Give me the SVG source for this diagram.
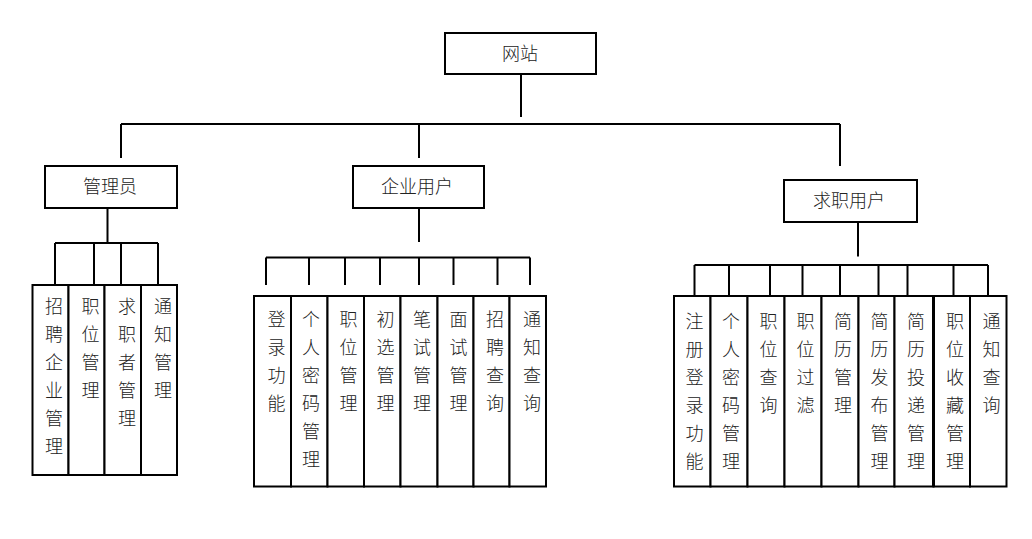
<svg xmlns="http://www.w3.org/2000/svg" width="1032" height="539" viewBox="0 0 1032 539">
<style>
.box{fill:#fff;stroke:#000;stroke-width:2}
.ln{stroke:#000;stroke-width:2;fill:none}
.t{font-family:"Liberation Serif","Noto Sans CJK SC",serif;font-size:18px;font-weight:300;fill:#222;text-anchor:middle}
</style>
<rect x="0" y="0" width="1032" height="539" fill="#fff"/>
<g id="connectors" class="ln">
<path d="M521 74V117"/>
<path d="M121 124H840"/>
<path d="M121 124V158M419 124V158M840 124V166"/>
<path d="M107.5 208V243M55 243H158M55 243V284M94 243V284M121 243V284M158 243V284"/>
<path d="M419 208V242M266 257.5H530M266 257.5V285M309 257.5V285M345 257.5V285M380 257.5V285M419 257.5V285M453.5 257.5V285M497.5 257.5V285M530 257.5V285"/>
<path d="M858 222V256.5M694.5 265H988M694.5 265V296M729 265V296M770 265V296M802.5 265V296M840 265V296M878.5 265V296M907.5 265V296M953.5 265V296M988 265V296"/>
</g>
<g id="n-root"><rect class="box" x="445" y="33" width="151" height="41"/><text class="t" x="520" y="60">网站</text></g>
<g id="n-admin"><rect class="box" x="45" y="166" width="132" height="42"/><text class="t" x="110" y="193">管理员</text></g>
<g id="n-company"><rect class="box" x="353" y="166" width="131" height="42"/><text class="t" x="417" y="193">企业用户</text></g>
<g id="n-seeker"><rect class="box" x="784" y="180" width="133" height="42"/><text class="t" x="849" y="207">求职用户</text></g>

<g id="n-a1"><rect class="box" x="32.5" y="285" width="36" height="190"/><text class="t" y="312.5"><tspan x="54">招</tspan><tspan x="54" dy="28">聘</tspan><tspan x="54" dy="28">企</tspan><tspan x="54" dy="28">业</tspan><tspan x="54" dy="28">管</tspan><tspan x="54" dy="28">理</tspan></text></g>
<g id="n-a2"><rect class="box" x="68.5" y="285" width="36" height="190"/><text class="t" y="312.5"><tspan x="90.5">职</tspan><tspan x="90.5" dy="28">位</tspan><tspan x="90.5" dy="28">管</tspan><tspan x="90.5" dy="28">理</tspan></text></g>
<g id="n-a3"><rect class="box" x="104.5" y="285" width="36.5" height="190"/><text class="t" y="312.5"><tspan x="127">求</tspan><tspan x="127" dy="28">职</tspan><tspan x="127" dy="28">者</tspan><tspan x="127" dy="28">管</tspan><tspan x="127" dy="28">理</tspan></text></g>
<g id="n-a4"><rect class="box" x="141" y="285" width="36" height="190"/><text class="t" y="312.5"><tspan x="163">通</tspan><tspan x="163" dy="28">知</tspan><tspan x="163" dy="28">管</tspan><tspan x="163" dy="28">理</tspan></text></g>

<g id="n-c1"><rect class="box" x="254" y="296" width="37" height="190.5"/><text class="t" y="325.5"><tspan x="276.5">登</tspan><tspan x="276.5" dy="28">录</tspan><tspan x="276.5" dy="28">功</tspan><tspan x="276.5" dy="28">能</tspan></text></g>
<g id="n-c2"><rect class="box" x="291" y="296" width="36.5" height="190.5"/><text class="t" y="325.5"><tspan x="311">个</tspan><tspan x="311" dy="28">人</tspan><tspan x="311" dy="28">密</tspan><tspan x="311" dy="28">码</tspan><tspan x="311" dy="28">管</tspan><tspan x="311" dy="28">理</tspan></text></g>
<g id="n-c3"><rect class="box" x="327.5" y="296" width="36.5" height="190.5"/><text class="t" y="325.5"><tspan x="348.5">职</tspan><tspan x="348.5" dy="28">位</tspan><tspan x="348.5" dy="28">管</tspan><tspan x="348.5" dy="28">理</tspan></text></g>
<g id="n-c4"><rect class="box" x="364" y="296" width="36.5" height="190.5"/><text class="t" y="325.5"><tspan x="385.5">初</tspan><tspan x="385.5" dy="28">选</tspan><tspan x="385.5" dy="28">管</tspan><tspan x="385.5" dy="28">理</tspan></text></g>
<g id="n-c5"><rect class="box" x="400.5" y="296" width="37" height="190.5"/><text class="t" y="325.5"><tspan x="422">笔</tspan><tspan x="422" dy="28">试</tspan><tspan x="422" dy="28">管</tspan><tspan x="422" dy="28">理</tspan></text></g>
<g id="n-c6"><rect class="box" x="437.5" y="296" width="36" height="190.5"/><text class="t" y="325.5"><tspan x="458.5">面</tspan><tspan x="458.5" dy="28">试</tspan><tspan x="458.5" dy="28">管</tspan><tspan x="458.5" dy="28">理</tspan></text></g>
<g id="n-c7"><rect class="box" x="473.5" y="296" width="36" height="190.5"/><text class="t" y="325.5"><tspan x="495">招</tspan><tspan x="495" dy="28">聘</tspan><tspan x="495" dy="28">查</tspan><tspan x="495" dy="28">询</tspan></text></g>
<g id="n-c8"><rect class="box" x="509.5" y="296" width="36.5" height="190.5"/><text class="t" y="325.5"><tspan x="532">通</tspan><tspan x="532" dy="28">知</tspan><tspan x="532" dy="28">查</tspan><tspan x="532" dy="28">询</tspan></text></g>

<g id="n-s1"><rect class="box" x="674" y="296" width="36.5" height="190.5"/><text class="t" y="327.5"><tspan x="694.5">注</tspan><tspan x="694.5" dy="28">册</tspan><tspan x="694.5" dy="28">登</tspan><tspan x="694.5" dy="28">录</tspan><tspan x="694.5" dy="28">功</tspan><tspan x="694.5" dy="28">能</tspan></text></g>
<g id="n-s2"><rect class="box" x="710.5" y="296" width="37" height="190.5"/><text class="t" y="327.5"><tspan x="731">个</tspan><tspan x="731" dy="28">人</tspan><tspan x="731" dy="28">密</tspan><tspan x="731" dy="28">码</tspan><tspan x="731" dy="28">管</tspan><tspan x="731" dy="28">理</tspan></text></g>
<g id="n-s3"><rect class="box" x="747.5" y="296" width="37" height="190.5"/><text class="t" y="327.5"><tspan x="768.5">职</tspan><tspan x="768.5" dy="28">位</tspan><tspan x="768.5" dy="28">查</tspan><tspan x="768.5" dy="28">询</tspan></text></g>
<g id="n-s4"><rect class="box" x="784.5" y="296" width="37" height="190.5"/><text class="t" y="327.5"><tspan x="805.5">职</tspan><tspan x="805.5" dy="28">位</tspan><tspan x="805.5" dy="28">过</tspan><tspan x="805.5" dy="28">滤</tspan></text></g>
<g id="n-s5"><rect class="box" x="821.5" y="296" width="37" height="190.5"/><text class="t" y="327.5"><tspan x="843">简</tspan><tspan x="843" dy="28">历</tspan><tspan x="843" dy="28">管</tspan><tspan x="843" dy="28">理</tspan></text></g>
<g id="n-s6"><rect class="box" x="858.5" y="296" width="36" height="190.5"/><text class="t" y="327.5"><tspan x="879.5">简</tspan><tspan x="879.5" dy="28">历</tspan><tspan x="879.5" dy="28">发</tspan><tspan x="879.5" dy="28">布</tspan><tspan x="879.5" dy="28">管</tspan><tspan x="879.5" dy="28">理</tspan></text></g>
<g id="n-s7"><rect class="box" x="894.5" y="296" width="39" height="190.5"/><text class="t" y="327.5"><tspan x="916">简</tspan><tspan x="916" dy="28">历</tspan><tspan x="916" dy="28">投</tspan><tspan x="916" dy="28">递</tspan><tspan x="916" dy="28">管</tspan><tspan x="916" dy="28">理</tspan></text></g>
<g id="n-s8"><rect class="box" x="933.5" y="296" width="36.5" height="190.5"/><text class="t" y="327.5"><tspan x="955">职</tspan><tspan x="955" dy="28">位</tspan><tspan x="955" dy="28">收</tspan><tspan x="955" dy="28">藏</tspan><tspan x="955" dy="28">管</tspan><tspan x="955" dy="28">理</tspan></text></g>
<g id="n-s9"><rect class="box" x="970" y="296" width="36.5" height="190.5"/><text class="t" y="327.5"><tspan x="991.5">通</tspan><tspan x="991.5" dy="28">知</tspan><tspan x="991.5" dy="28">查</tspan><tspan x="991.5" dy="28">询</tspan></text></g>
<line x1="933.5" y1="296" x2="933.5" y2="486.5" stroke="#000" stroke-width="3"/>
</svg>
